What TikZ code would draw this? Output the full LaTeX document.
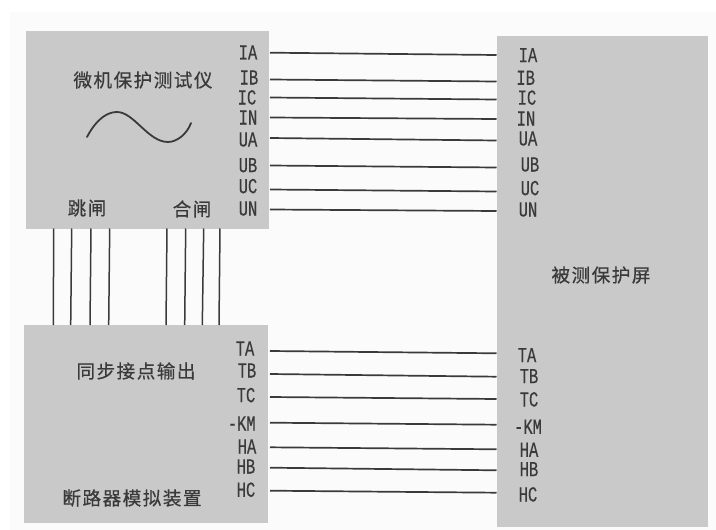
\documentclass[tikz,border=0pt]{standalone}
\usepackage{fontspec}
\newfontfamily\portfont[FakeStretch=0.72,FakeBold=0.3]{Liberation Mono}
\newfontfamily\cjk[LetterSpace=8,FakeBold=0.5]{Noto Sans CJK SC}
\definecolor{boxgray}{HTML}{C9C9C9}
\definecolor{inkgray}{HTML}{3A3A3A}
\definecolor{paper}{HTML}{FBFBFB}
\tikzset{
  panel/.style={draw=none,fill=boxgray,inner sep=0pt,outer sep=0pt,anchor=north west},
  port/.style={inner sep=0pt,text=inkgray,text height=13pt,text depth=0pt,font=\fontsize{21.5}{22}\portfont},
  title/.style={inner sep=0pt,text=inkgray,font=\fontsize{18.6}{20}\cjk},
  wire/.style={draw=inkgray,line width=1.7pt},
  link/.style={draw=inkgray,line width=1.5pt}
}
\begin{document}
\begin{tikzpicture}[x=1pt,y=-1pt]
\useasboundingbox (0,0) rectangle (716,530);
\fill[white] (0,0) rectangle (716,530);
\fill[paper] (10,12) rectangle (716,530);
\node[panel,minimum width=243pt,minimum height=198pt] (tester) at (26,30.5) {};
\node[panel,minimum width=244pt,minimum height=198pt] (breaker) at (24,325) {};
\node[panel,minimum width=211pt,minimum height=491pt] (screen) at (496.5,36) {};
\node[title] (t1) at (143,80) {微机保护测试仪};
\node[title] (t2) at (87,208) {跳闸};
\node[title] (t3) at (192,209) {合闸};
\node[title] (t4) at (136,371) {同步接点输出};
\node[title] (t5) at (132,498) {断路器模拟装置};
\node[title] (t6) at (601,275) {被测保护屏};
\draw[inkgray,line width=1.8pt,line cap=round] (87,137) .. controls (97,118) and (108,112) .. (117,112)
  .. controls (134,112) and (148,142) .. (168,142) .. controls (177,142) and (187,134) .. (191,123);
% ports: name / label / left x,y / wire left y / wire right y / right label x,y
\foreach \n/\s/\lx/\ly/\wl/\wr/\rx/\ry in {
  a/IA/248/53/52.7/55/528/55.7,
  b/IB/249/78/79.5/81.5/525.7/78.3,
  c/IC/247/98/97.5/99.5/527/98.2,
  d/IN/248/118/117.5/119/526/119,
  e/UA/248/140/138/140.5/528/139,
  f/UB/248/165.7/165.5/167.5/530/165,
  g/UC/248/186.7/189.5/191.5/530/188.7,
  h/UN/248/209/209.5/211/528/210,
  i/TA/245/349/351/353.3/527/355.7,
  j/TB/247/371/374/376.7/529/376.7,
  k/TC/246/395.7/397/399/529/400,
  l/-KM/241.7/424/422.7/424.7/528/427.3,
  m/HA/247/447/447.3/449.3/529/450.3,
  n/HB/246/467/467.7/470.3/529/469.7,
  o/HC/246/490.3/490.7/492.7/528/495}{
  \node[port] (L\n) at (\lx,\ly) {\s};
  \node[port] (R\n) at (\rx,\ry) {\s};
  \coordinate (A\n) at (270,\wl);
  \coordinate (B\n) at (496.5,\wr);
  \draw[wire] (A\n) -- (B\n);
}
\foreach \n/\xa/\xb in {1/53.7/53.3,2/71.7/70.7,3/91/90,4/109.7/108.7,5/167/166,6/185.7/184.7,7/203.7/202.3,8/220/219}{
  \coordinate (U\n) at (\xa,228.5);
  \coordinate (D\n) at (\xb,325);
  \draw[link] (U\n) -- (D\n);
}
\end{tikzpicture}
\end{document}
